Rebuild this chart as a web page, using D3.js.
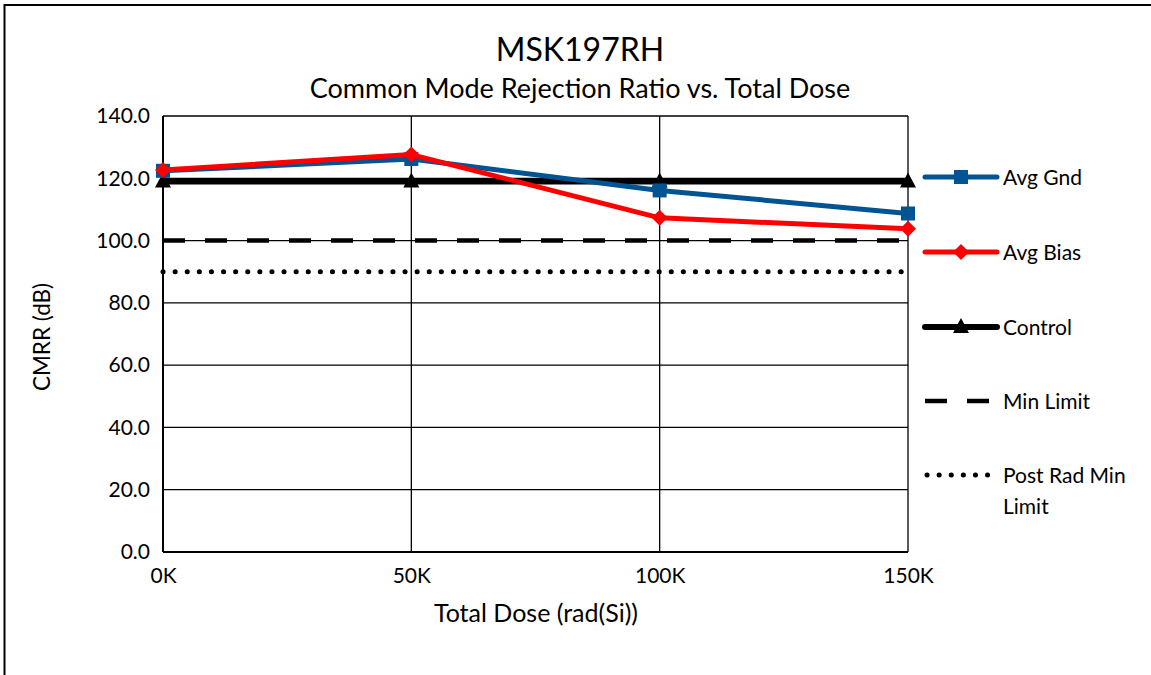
<!DOCTYPE html>
<html lang="en">
  <head>
    <meta charset="utf-8" />
    <title>MSK197RH CMRR vs Total Dose</title>
    <script src="https://cdn.jsdelivr.net/npm/d3@7"></script>
    <style>
      body { margin: 0; background: #fff; }
      text { font-family: Lato, "Open Sans", sans-serif; fill: #000; }
    </style>
  </head>
  <body>
    <div id="root"></div>

    <script type="text/javascript">
      /************************************
       * data
       ************************************/
      const doses = [0, 50, 100, 150]; // krad(Si)
      const xTickLabels = ["0K", "50K", "100K", "150K"];
      const yTicks = [0, 20, 40, 60, 80, 100, 120, 140];

      const avgGnd = [122.4, 126.2, 116.1, 108.7];
      const avgBias = [122.7, 127.6, 107.3, 103.8];
      const control = [119, 119, 119, 119];
      const minLimit = [100, 100, 100, 100];
      const postRadMinLimit = [90, 90, 90, 90];

      const seriesNames = ["Avg Gnd", "Avg Bias", "Control", "Min Limit", "Post Rad Min Limit"];

      /************************************
       * chart
       ************************************/
      const width = 1151;
      const height = 675;
      const marginTop = 116;
      const marginLeft = 163;
      const plotRight = 908;
      const plotBottom = 552;

      const xScale = d3.scaleLinear().domain([0, 150]).range([marginLeft, plotRight]);
      const yScale = d3.scaleLinear().domain([0, 140]).range([plotBottom, marginTop]);

      const svg = d3.select("#root").append("svg")
        .attr("width", width)
        .attr("height", height);

      // outer chart border (only top and left show in the frame)
      svg.append("path")
        .attr("d", `M4.5,${height} V5 H${width}`)
        .attr("fill", "none")
        .attr("stroke", "#000")
        .attr("stroke-width", 2);

      // titles
      svg.append("text")
        .text("MSK197RH")
        .attr("x", 580).attr("y", 61)
        .attr("text-anchor", "middle")
        .style("font-size", "32px");
      svg.append("text")
        .text("Common Mode Rejection Ratio vs. Total Dose")
        .attr("x", 580).attr("y", 98)
        .attr("text-anchor", "middle")
        .style("font-size", "27px");

      // horizontal gridlines
      svg.append("g")
        .selectAll("line")
        .data(yTicks)
        .join("line")
        .attr("x1", marginLeft).attr("x2", plotRight)
        .attr("y1", d => yScale(d)).attr("y2", d => yScale(d))
        .attr("stroke", "#000")
        .attr("stroke-width", d => (d === 0 ? 2 : 1.3));

      // vertical gridlines
      svg.append("g")
        .selectAll("line")
        .data(doses)
        .join("line")
        .attr("x1", d => xScale(d)).attr("x2", d => xScale(d))
        .attr("y1", marginTop).attr("y2", plotBottom)
        .attr("stroke", "#000")
        .attr("stroke-width", (d, i) => (i === 0 ? 2 : 1.3));

      // y axis labels
      const yAxis = svg.append("g")
        .attr("transform", `translate(${marginLeft},0)`)
        .call(d3.axisLeft(yScale).tickValues(yTicks).tickFormat(d3.format(".1f")).tickSize(0).tickPadding(13));
      yAxis.select(".domain").remove();
      yAxis.selectAll("text").style("font-size", "21px").attr("font-family", null);

      // x axis labels
      const xAxis = svg.append("g")
        .attr("transform", `translate(0,${plotBottom})`)
        .call(d3.axisBottom(xScale).tickValues(doses).tickFormat((d, i) => xTickLabels[i]).tickSize(0).tickPadding(16));
      xAxis.select(".domain").remove();
      xAxis.selectAll("text").style("font-size", "21px").attr("font-family", null);

      // axis titles
      svg.append("text")
        .text("Total Dose (rad(Si))")
        .attr("x", 536).attr("y", 622)
        .attr("text-anchor", "middle")
        .style("font-size", "25px");
      svg.append("text")
        .text("CMRR (dB)")
        .attr("transform", "translate(50,337) rotate(-90)")
        .attr("text-anchor", "middle")
        .style("font-size", "22.5px");

      // series
      const line = d3.line()
        .x((d, i) => xScale(doses[i]))
        .y(d => yScale(d));

      const series = [
        { name: seriesNames[0], values: avgGnd, color: "#005493", width: 5, marker: "square" },
        { name: seriesNames[1], values: avgBias, color: "#ff0000", width: 5, marker: "diamond" },
        { name: seriesNames[2], values: control, color: "#000", width: 6, marker: "triangle" },
        { name: seriesNames[3], values: minLimit, color: "#000", width: 4.5, dash: "22,20", cap: "butt" },
        { name: seriesNames[4], values: postRadMinLimit, color: "#000", width: 5, dash: "0.1,12", cap: "round" }
      ];

      // marker shapes, drawn around (0,0)
      const markerPaths = {
        square: "M-7,-7H7V7H-7Z",
        diamond: "M0,-8L8,0L0,8L-8,0Z",
        triangle: "M0,-9L8,6H-8Z"
      };

      // draw the limit lines first, then control, then data
      const drawOrder = [4, 3, 2, 0, 1];
      drawOrder.forEach(k => {
        const s = series[k];
        svg.append("path")
          .datum(s.values)
          .attr("d", line)
          .attr("fill", "none")
          .attr("stroke", s.color)
          .attr("stroke-width", s.width)
          .attr("stroke-linecap", s.cap || "butt")
          .attr("stroke-linejoin", "round")
          .attr("stroke-dasharray", s.dash || null);
        if (s.marker) {
          svg.append("g")
            .selectAll("path")
            .data(s.values)
            .join("path")
            .attr("transform", (d, i) => `translate(${xScale(doses[i])},${yScale(d)})`)
            .attr("d", markerPaths[s.marker])
            .attr("fill", s.color);
        }
      });

      // legend
      const legendY = [177, 252, 327, 401, 475];
      const legend = svg.append("g");
      series.forEach((s, i) => {
        const y = legendY[i];
        legend.append("line")
          .attr("x1", s.cap === "round" ? 927 : 925).attr("x2", 997)
          .attr("y1", y).attr("y2", y)
          .attr("stroke", s.color)
          .attr("stroke-width", s.width)
          .attr("stroke-linecap", s.cap || "round")
          .attr("stroke-dasharray", s.dash || null);
        if (s.marker) {
          legend.append("path")
            .attr("transform", `translate(961,${y})`)
            .attr("d", markerPaths[s.marker])
            .attr("fill", s.color);
        }
        const t = legend.append("text")
          .attr("x", 1003).attr("y", y + 8)
          .style("font-size", "21px");
        if (s.name === "Post Rad Min Limit") {
          t.append("tspan").attr("x", 1003).text("Post Rad Min");
          t.append("tspan").attr("x", 1003).attr("dy", 31).text("Limit");
        } else {
          t.text(s.name);
        }
      });
    </script>
  </body>
</html>
